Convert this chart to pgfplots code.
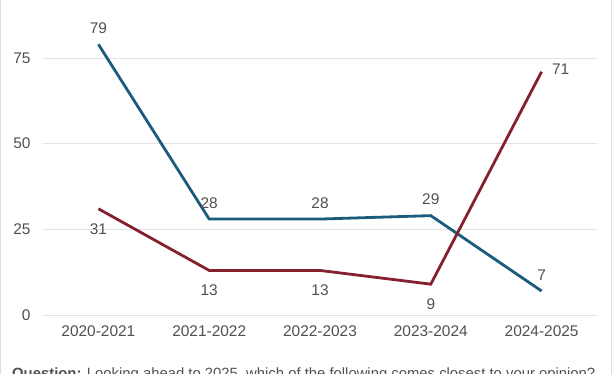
\documentclass[border=0pt]{standalone}
\usepackage{pgfplots}
\pgfplotsset{compat=1.18}
\usepackage{fontspec}
\setmainfont{Liberation Sans}
\definecolor{cblue}{HTML}{1A5C7C}
\definecolor{cred}{HTML}{85212F}
\definecolor{ctext}{HTML}{505050}
\definecolor{cgrid}{HTML}{E3E3E3}
\begin{document}
\begin{tikzpicture}
\begin{axis}[
  at={(0,0)}, anchor=south west,
  scale only axis, width=554bp, height=308.4bp,
  xmin=-0.5, xmax=4.5, ymin=0, ymax=90,
  axis line style={draw=none},
  tick style={draw=none},
  ymajorgrids, grid style={cgrid, line width=1bp},
  ytick={0,25,50,75},
  xtick={0,1,2,3,4},
  xticklabels={2020-2021,2021-2022,2022-2023,2023-2024,2024-2025},
  ticklabel style={font=\fontsize{15.5}{17}\selectfont, text=ctext},
  yticklabel style={xshift=-9bp},
  xticklabel style={yshift=-7bp},
  /pgf/number format/assume math mode=true,
  clip=false,
  nodes near coords style={font=\fontsize{15.5}{17}\selectfont, text=ctext},
]
\addplot[cblue, line width=2.8bp, mark=none,
  nodes near coords, every node near coord/.append style={anchor=south, yshift=6bp}]
  coordinates {(0,79) (1,28) (2,28) (3,29) (4,7)};
\addplot[cred, line width=2.8bp, mark=none] coordinates {(0,31) (1,13) (2,13) (3,9) (4,71)};
\addplot[draw=none, mark=none, nodes near coords,
  every node near coord/.append style={anchor=north, yshift=-11bp}]
  coordinates {(0,31) (1,13) (2,13) (3,9)};
\addplot[draw=none, mark=none, nodes near coords,
  every node near coord/.append style={anchor=west, xshift=7bp, yshift=3bp}]
  coordinates {(4,71)};
\end{axis}
\node[anchor=base west, inner sep=0, text=ctext, font=\fontsize{14.9}{17}\selectfont] at (-31bp,-63bp) {\textbf{Question:} Looking ahead to 2025, which of the following comes closest to your opinion?};
\draw[gray!25, line width=1bp] (-42.5bp,-59bp) -- (-42.5bp,315bp);
\draw[gray!25, line width=1bp] (568.5bp,-59bp) -- (568.5bp,315bp);
\pgfresetboundingbox
\useasboundingbox (-43bp,-59bp) rectangle (569bp,315bp);
\end{tikzpicture}
\end{document}
